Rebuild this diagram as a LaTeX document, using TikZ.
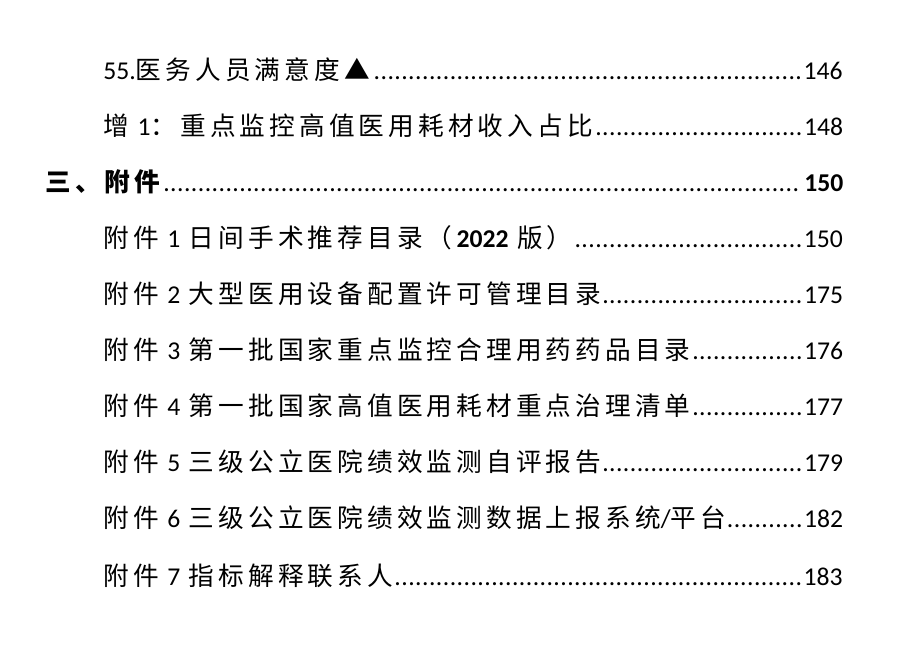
\documentclass[tikz,border=0pt]{standalone}
\usepackage{fontspec}
\setmainfont{Carlito}
\newfontfamily\cjk[LetterSpace=16]{Noto Sans CJK SC}
\newcommand{\zh}[1]{{\cjk #1}}
\newcommand{\tocdots}{\leaders\hbox to 0.27em{\hss.\hss}\hfill}
\tikzset{
  tocline/.style={anchor=west, inner sep=0pt, font=\fontsize{14.6pt}{16pt}\selectfont, align=left},
}
\begin{document}
\begin{tikzpicture}[x=0.02cm,y=-0.02cm]
  \useasboundingbox (0,0) rectangle (901,665);
  \node[tocline, text width=740*0.02cm] (e1) at (103,70) {55.\zh{医务人员满意度▲}\tocdots 146};
  \node[tocline, text width=740*0.02cm] (e2) at (103,126) {\zh{增} 1\zh{：重点监控高值医用耗材收入占比}\tocdots 148};
  \node[tocline, text width=798*0.02cm] (e3) at (45,182) {\zh{\bfseries 三、附件}\tocdots \textbf{150}};
  \node[tocline, text width=740*0.02cm] (e4) at (103,238) {\zh{附件} 1 \zh{日间手术推荐目录（}\textbf{2022} \zh{版）}\tocdots 150};
  \node[tocline, text width=740*0.02cm] (e5) at (103,294) {\zh{附件} 2 \zh{大型医用设备配置许可管理目录}\tocdots 175};
  \node[tocline, text width=740*0.02cm] (e6) at (103,350) {\zh{附件} 3 \zh{第一批国家重点监控合理用药药品目录}\tocdots 176};
  \node[tocline, text width=740*0.02cm] (e7) at (103,406) {\zh{附件} 4 \zh{第一批国家高值医用耗材重点治理清单}\tocdots 177};
  \node[tocline, text width=740*0.02cm] (e8) at (103,462) {\zh{附件} 5 \zh{三级公立医院绩效监测自评报告}\tocdots 179};
  \node[tocline, text width=740*0.02cm] (e9) at (103,518) {\zh{附件} 6 \zh{三级公立医院绩效监测数据上报系统}/\zh{平台}\tocdots 182};
  \node[tocline, text width=740*0.02cm] (e10) at (103,576) {\zh{附件} 7 \zh{指标解释联系人}\tocdots 183};
\end{tikzpicture}
\end{document}
